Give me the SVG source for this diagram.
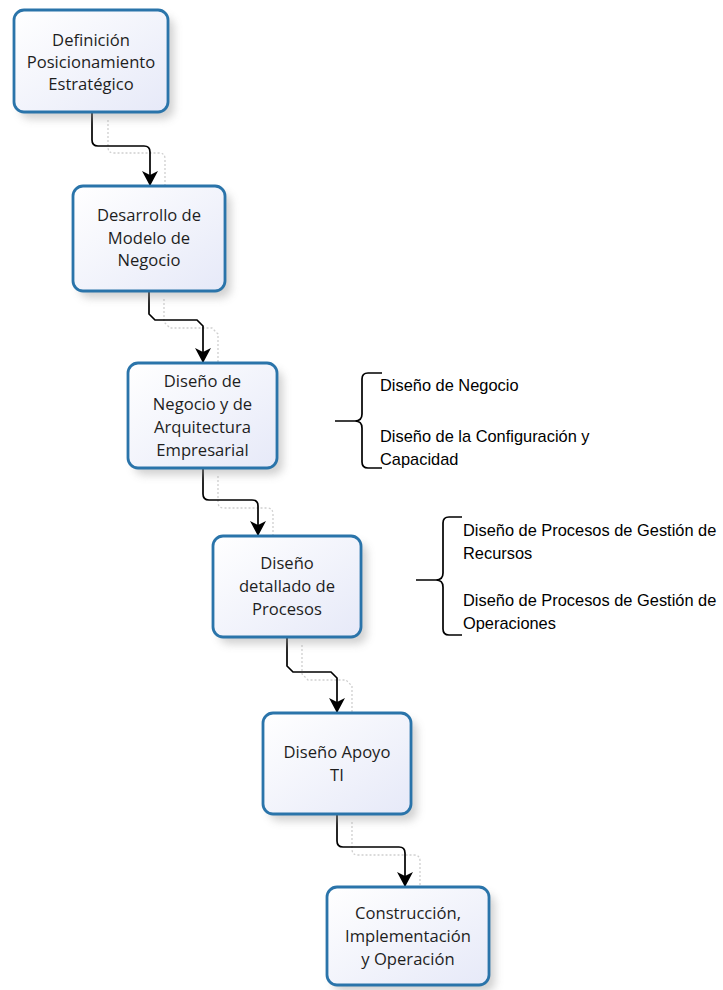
<svg xmlns="http://www.w3.org/2000/svg" width="723" height="990" viewBox="0 0 723 990">
  <defs>
    <linearGradient id="boxFill" x1="0" y1="0" x2="1" y2="1">
      <stop offset="0" stop-color="#ffffff"/>
      <stop offset="1" stop-color="#e6e9f8"/>
    </linearGradient>
    <filter id="shadow" x="-20%" y="-20%" width="150%" height="150%">
      <feGaussianBlur stdDeviation="4"/>
    </filter>
    <marker id="arrow" viewBox="-16 -9 18 18" refX="0" refY="0" markerWidth="18" markerHeight="18" markerUnits="userSpaceOnUse" orient="auto">
      <path d="M0,0 L-15,-8 L-11,0 L-15,8 Z" fill="#000"/>
    </marker>
    <style>
      .box { fill: url(#boxFill); stroke: #2a74aa; stroke-width: 2.8; }
      .shade { fill: #9a9a9a; opacity: 0.45; filter: url(#shadow); }
      .label { font-family: "Open Sans", "DejaVu Sans", sans-serif; font-size: 16.6px; fill: #1e1e1e; text-anchor: middle; }
      .note { font-family: "Liberation Sans", Arial, sans-serif; font-size: 16.4px; fill: #000; }
      .link { fill: none; stroke: #000; stroke-width: 1.7; marker-end: url(#arrow); }
      .ghost { fill: none; stroke: #cfcfcf; stroke-width: 1.3; stroke-dasharray: 2 2; }
      .brace { fill: none; stroke: #000; stroke-width: 1.7; }
    </style>
  </defs>

  <rect width="723" height="990" fill="#ffffff"/>

  <!-- faint connector shadows -->
  <g id="connector-shadows">
    <path class="ghost" d="M108,120 V147 Q108,153 114,153 H159 Q165,153 165,159 V186"/>
    <path class="ghost" d="M164,299 V322 L170,328 H212 L218,334 V363"/>
    <path class="ghost" d="M218,476 V502 Q218,508 224,508 H267 Q273,508 273,514 V536"/>
    <path class="ghost" d="M302,645 V674 L308,680 H346 L352,686 V713"/>
    <path class="ghost" d="M352,822 V849 Q352,855 358,855 H414 Q420,855 420,861 V887"/>
  </g>

  <!-- connectors -->
  <g id="connectors">
    <path class="link" d="M92,112 V140 Q92,146 98,146 H144 Q150,146 150,152 V186"/>
    <path class="link" d="M149,291 V314 L155,320 H197 L203,326 V363"/>
    <path class="link" d="M203,468 V494 Q203,500 209,500 H252 Q258,500 258,506 V536"/>
    <path class="link" d="M287,637 V666 L293,672 H331 L337,678 V713"/>
    <path class="link" d="M337,814 V841 Q337,847 343,847 H399 Q405,847 405,853 V887"/>
  </g>

  <g id="n1">
    <rect class="shade" x="20" y="17" width="154" height="102" rx="10"/>
    <rect class="box" x="14" y="10" width="154" height="102" rx="10"/>
    <text class="label" x="91" y="46">Definición</text>
    <text class="label" x="91" y="68">Posicionamiento</text>
    <text class="label" x="91" y="90">Estratégico</text>
  </g>

  <g id="n2">
    <rect class="shade" x="79" y="193" width="152" height="105" rx="10"/>
    <rect class="box" x="73" y="186" width="152" height="105" rx="10"/>
    <text class="label" x="149" y="221">Desarrollo de</text>
    <text class="label" x="149" y="244">Modelo de</text>
    <text class="label" x="149" y="266">Negocio</text>
  </g>

  <g id="n3">
    <rect class="shade" x="134" y="370" width="149" height="105" rx="10"/>
    <rect class="box" x="128" y="363" width="149" height="105" rx="10"/>
    <text class="label" x="202.5" y="387">Diseño de</text>
    <text class="label" x="202.5" y="410">Negocio y de</text>
    <text class="label" x="202.5" y="433">Arquitectura</text>
    <text class="label" x="202.5" y="456">Empresarial</text>
  </g>

  <g id="n4">
    <rect class="shade" x="219" y="543" width="148" height="101" rx="10"/>
    <rect class="box" x="213" y="536" width="148" height="101" rx="10"/>
    <text class="label" x="287" y="569">Diseño</text>
    <text class="label" x="287" y="592">detallado de</text>
    <text class="label" x="287" y="615">Procesos</text>
  </g>

  <g id="n5">
    <rect class="shade" x="269" y="720" width="148" height="101" rx="10"/>
    <rect class="box" x="263" y="713" width="148" height="101" rx="10"/>
    <text class="label" x="337" y="758">Diseño Apoyo</text>
    <text class="label" x="337" y="781">TI</text>
  </g>

  <g id="n6">
    <rect class="shade" x="333" y="894" width="162" height="98" rx="10"/>
    <rect class="box" x="327" y="887" width="162" height="98" rx="10"/>
    <text class="label" x="408" y="919">Construcción,</text>
    <text class="label" x="408" y="942">Implementación</text>
    <text class="label" x="408" y="965">y Operación</text>
  </g>

  <g id="note-negocio">
    <path class="brace" d="M382,373 H368 Q362,373 362,379 V414 Q362,421 355,421 H335 H355 Q362,421 362,428 V462 Q362,468 368,468 H382"/>
    <text class="note" x="380" y="391">Diseño de Negocio</text>
    <text class="note" x="380" y="442">Diseño de la Configuración y</text>
    <text class="note" x="380" y="465">Capacidad</text>
  </g>

  <g id="note-procesos">
    <path class="brace" d="M462,517 H449 Q443,517 443,523 V573 Q443,580 436,580 H416 H436 Q443,580 443,587 V629 Q443,635 449,635 H462"/>
    <text class="note" x="463" y="536">Diseño de Procesos de Gestión de</text>
    <text class="note" x="463" y="559">Recursos</text>
    <text class="note" x="463" y="606">Diseño de Procesos de Gestión de</text>
    <text class="note" x="463" y="629">Operaciones</text>
  </g>
</svg>
